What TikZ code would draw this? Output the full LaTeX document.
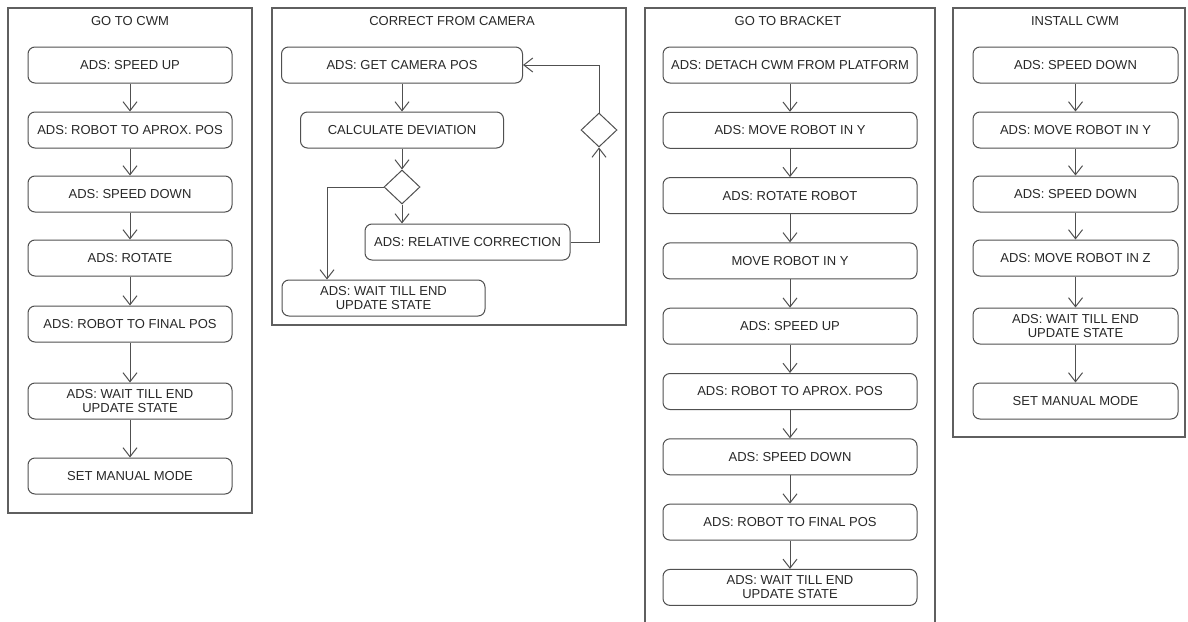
\documentclass[tikz,border=0pt]{standalone}
\usepackage{fontspec}
\setmainfont{Liberation Sans}
\usepackage{xcolor}
\usepackage{tikz}
\usetikzlibrary{shapes,arrows,arrows.meta,positioning,calc}
\definecolor{linegray}{RGB}{80, 80, 80}
\definecolor{framegray}{RGB}{95, 95, 95}
\definecolor{textdark}{RGB}{40, 40, 40}

\begin{document}
\begin{tikzpicture}[x=1pt, y=-1pt,
    actbox/.style={draw=linegray, line width=1pt, rounded corners=7pt, minimum width=#1, minimum height=36pt, inner sep=1pt, text=textdark, font=\fontsize{13}{14}\selectfont, align=center},
    decbox/.style={diamond, draw=linegray, line width=1pt, minimum width=36pt, minimum height=34pt, inner sep=0pt},
    paneltitle/.style={text=textdark, font=\fontsize{13}{14}\selectfont},
    panel/.style={draw=framegray, line width=1.1pt},
    flow/.style={draw=linegray, line width=1pt, -{Straight Barb[length=9pt, width=14pt]}}]
    \fill[white] (0,0) rectangle (1188,621);
    \useasboundingbox (0,0) rectangle (1188,621);

    % GO TO CWM
    \draw[panel] (8,8) rectangle (252,513);
    \node[paneltitle] (cwmtitle) at (130,21) {GO TO CWM};
    \node[actbox=204pt] (cwmspeedup) at (130,65) {ADS: SPEED UP};
    \node[actbox=204pt] (cwmaprox) at (130,130) {ADS: ROBOT TO APROX. POS};
    \node[actbox=204pt] (cwmspeeddown) at (130,194) {ADS: SPEED DOWN};
    \node[actbox=204pt] (cwmrotate) at (130,258) {ADS: ROTATE};
    \node[actbox=204pt] (cwmfinal) at (130,324) {ADS: ROBOT TO FINAL POS};
    \node[actbox=204pt] (cwmwait) at (130,401) {ADS: WAIT TILL END\\UPDATE STATE};
    \node[actbox=204pt] (cwmmanual) at (130,476) {SET MANUAL MODE};
    \draw[flow] (cwmspeedup) -- (cwmaprox);
    \draw[flow] (cwmaprox) -- (cwmspeeddown);
    \draw[flow] (cwmspeeddown) -- (cwmrotate);
    \draw[flow] (cwmrotate) -- (cwmfinal);
    \draw[flow] (cwmfinal) -- (cwmwait);
    \draw[flow] (cwmwait) -- (cwmmanual);

    % CORRECT FROM CAMERA
    \draw[panel] (272,8) rectangle (626,325);
    \node[paneltitle] (camtitle) at (452,21) {CORRECT FROM CAMERA};
    \node[actbox=241pt] (campos) at (402,65) {ADS: GET CAMERA POS};
    \node[actbox=203pt] (camdev) at (402,130) {CALCULATE DEVIATION};
    \node[decbox] (camcheck) at (402,187) {};
    \node[actbox=205pt] (camcorr) at (467.5,242) {ADS: RELATIVE CORRECTION};
    \node[actbox=203pt] (camwait) at (383.5,298) {ADS: WAIT TILL END\\UPDATE STATE};
    \node[decbox] (camloop) at (599,130) {};
    \draw[flow] (campos) -- (camdev);
    \draw[flow] (camdev) -- (camcheck);
    \draw[flow] (camcheck.south) -- (camcheck.south |- camcorr.north);
    \draw[flow] (camcheck.west) -| ([xshift=-56.5pt]camwait.north);
    \draw[flow] (camcorr.east) -| (camloop.south);
    \draw[flow] (camloop.north) |- (campos.east);

    % GO TO BRACKET
    \draw[panel] (645,630) -- (645,8) -- (935,8) -- (935,630);
    \node[paneltitle] (brktitle) at (788,21) {GO TO BRACKET};
    \node[actbox=254pt] (brkdetach) at (790,65) {ADS: DETACH CWM FROM PLATFORM};
    \node[actbox=254pt] (brkmovey) at (790,130.3) {ADS: MOVE ROBOT IN Y};
    \node[actbox=254pt] (brkrotate) at (790,195.6) {ADS: ROTATE ROBOT};
    \node[actbox=254pt] (brkmovey2) at (790,260.9) {MOVE ROBOT IN Y};
    \node[actbox=254pt] (brkspeedup) at (790,326.2) {ADS: SPEED UP};
    \node[actbox=254pt] (brkaprox) at (790,391.5) {ADS: ROBOT TO APROX. POS};
    \node[actbox=254pt] (brkspeeddown) at (790,456.8) {ADS: SPEED DOWN};
    \node[actbox=254pt] (brkfinal) at (790,522.1) {ADS: ROBOT TO FINAL POS};
    \node[actbox=254pt] (brkwait) at (790,587.4) {ADS: WAIT TILL END\\UPDATE STATE};
    \draw[flow] (brkdetach) -- (brkmovey);
    \draw[flow] (brkmovey) -- (brkrotate);
    \draw[flow] (brkrotate) -- (brkmovey2);
    \draw[flow] (brkmovey2) -- (brkspeedup);
    \draw[flow] (brkspeedup) -- (brkaprox);
    \draw[flow] (brkaprox) -- (brkspeeddown);
    \draw[flow] (brkspeeddown) -- (brkfinal);
    \draw[flow] (brkfinal) -- (brkwait);

    % INSTALL CWM
    \draw[panel] (953,8) rectangle (1185,437);
    \node[paneltitle] (insttitle) at (1075,21) {INSTALL CWM};
    \node[actbox=205pt] (instspeed) at (1075.5,65) {ADS: SPEED DOWN};
    \node[actbox=205pt] (instmovey) at (1075.5,130) {ADS: MOVE ROBOT IN Y};
    \node[actbox=205pt] (instspeed2) at (1075.5,194) {ADS: SPEED DOWN};
    \node[actbox=205pt] (instmovez) at (1075.5,258) {ADS: MOVE ROBOT IN Z};
    \node[actbox=205pt] (instwait) at (1075.5,326) {ADS: WAIT TILL END\\UPDATE STATE};
    \node[actbox=205pt] (instmanual) at (1075.5,401) {SET MANUAL MODE};
    \draw[flow] (instspeed) -- (instmovey);
    \draw[flow] (instmovey) -- (instspeed2);
    \draw[flow] (instspeed2) -- (instmovez);
    \draw[flow] (instmovez) -- (instwait);
    \draw[flow] (instwait) -- (instmanual);
\end{tikzpicture}
\end{document}
